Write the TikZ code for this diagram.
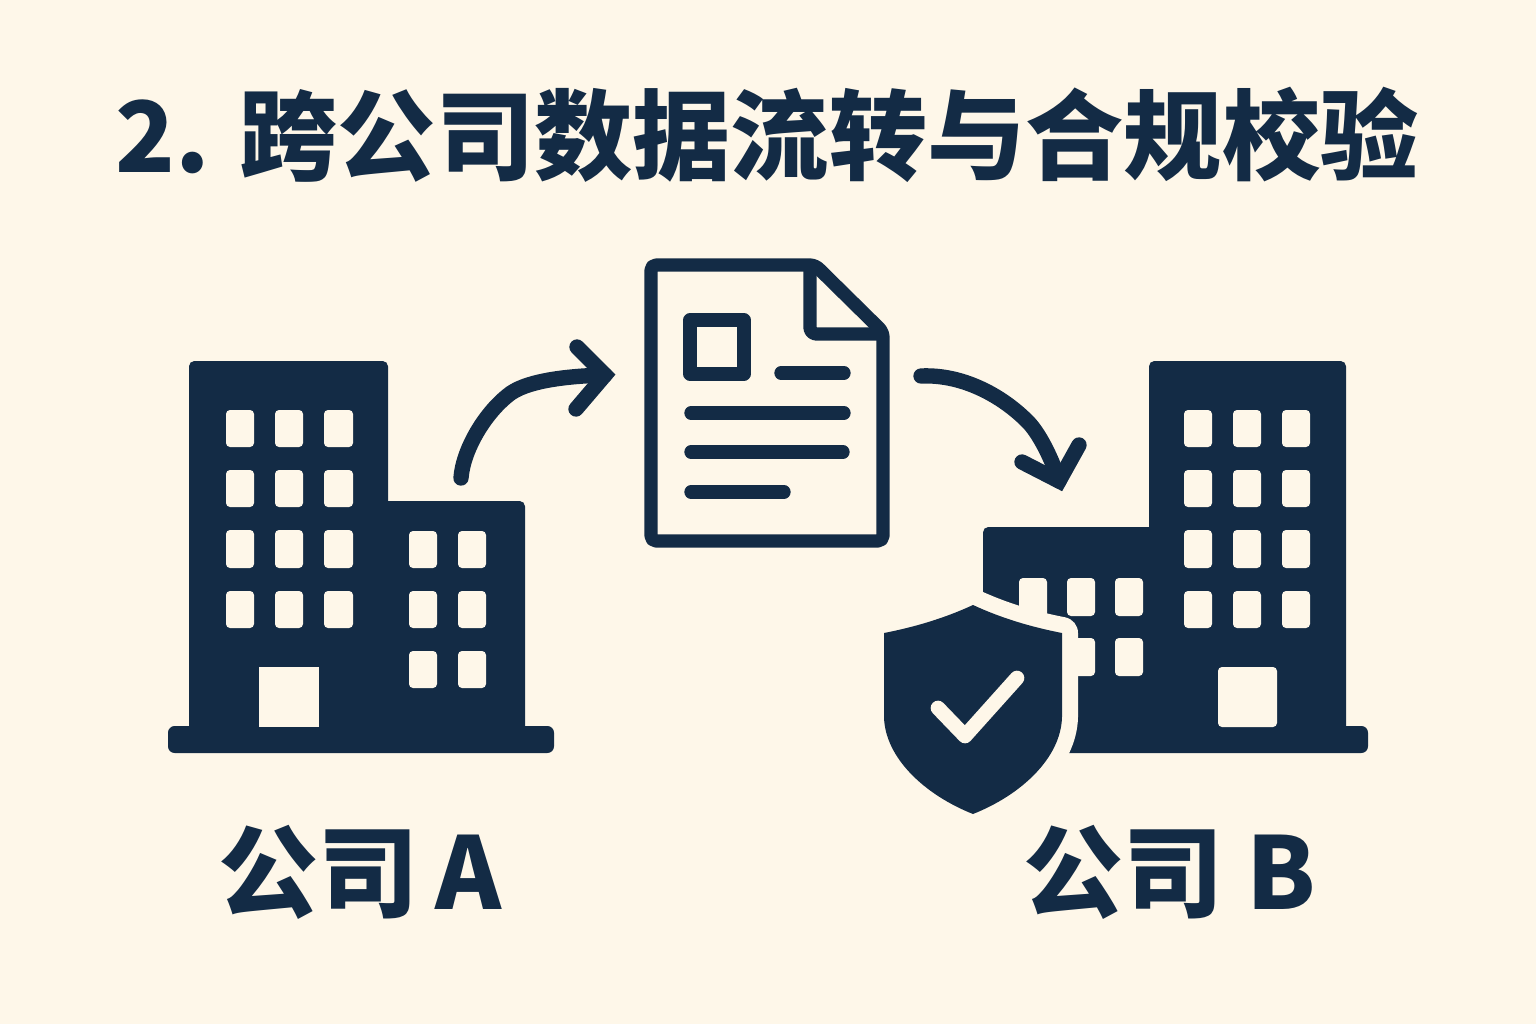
\documentclass[tikz,border=0pt]{standalone}
\usepackage{xcolor}
\usepackage{fontspec}
\newfontfamily\cjkfont{Noto Sans CJK SC}
\definecolor{pagecream}{HTML}{FEF7E9}
\definecolor{iconnavy}{HTML}{132B45}
\tikzset{
    solidicon/.style={fill=iconnavy},
    windowcut/.style={fill=pagecream,rounded corners=3pt},
    iconline/.style={draw=iconnavy,line width=10pt,line cap=round,line join=round},
    flowline/.style={draw=iconnavy,line width=11.5pt,line cap=round,line join=miter,miter limit=10},
    titletext/.style={text=iconnavy,font=\cjkfont\bfseries\fontsize{73.7}{80}\selectfont,inner sep=0pt},
    labeltext/.style={text=iconnavy,font=\cjkfont\bfseries\fontsize{75}{82}\selectfont,inner sep=0pt},
}

\begin{document}
\begin{tikzpicture}[x=0.75pt,y=0.75pt,yscale=-1,xscale=1]
%set diagram to the full page
    \fill [pagecream] (0,0) rectangle (1536,1024);

% Text Node
    \node [titletext] (titlenode) at (767,135) {2. 跨公司数据流转与合规校验};

%Shape: Building A
    \fill [solidicon,rounded corners=4pt] (189,361) rectangle (388,735);
    \fill [solidicon,rounded corners=4pt] (380,501) rectangle (525,735);
    \fill [solidicon,rounded corners=5pt] (168,726) rectangle (554,753);
%Windows of building A
    \path [windowcut] (226,410) rectangle (254,447) (275,410) rectangle (303,447) (324,410) rectangle (353,447);
    \path [windowcut] (226,470) rectangle (254,507) (275,470) rectangle (303,507) (324,470) rectangle (353,507);
    \path [windowcut] (226,530) rectangle (254,568) (275,530) rectangle (303,568) (324,530) rectangle (353,568) (409,531) rectangle (437,568) (458,531) rectangle (486,568);
    \path [windowcut] (226,591) rectangle (254,628) (275,591) rectangle (303,628) (324,591) rectangle (353,628) (409,591) rectangle (437,628) (458,591) rectangle (486,628);
    \path [windowcut] (409,651) rectangle (437,688) (458,651) rectangle (486,688);
    \fill [pagecream] (259,667) rectangle (319,727);

%Shape: Building B
    \fill [solidicon,rounded corners=4pt] (1149,361) rectangle (1346,735);
    \fill [solidicon,rounded corners=4pt] (983,527) rectangle (1157,735);
    \fill [solidicon,rounded corners=5pt] (983,726) rectangle (1368,753);
%Windows of building B
    \path [windowcut] (1184,410) rectangle (1212,447) (1233,410) rectangle (1261,447) (1282,410) rectangle (1310,447);
    \path [windowcut] (1184,470) rectangle (1212,507) (1233,470) rectangle (1261,507) (1282,470) rectangle (1310,507);
    \path [windowcut] (1184,530) rectangle (1212,568) (1233,530) rectangle (1261,568) (1282,530) rectangle (1310,568);
    \path [windowcut] (1184,591) rectangle (1212,628) (1233,591) rectangle (1261,628) (1282,591) rectangle (1310,628);
    \path [windowcut] (1019,578) rectangle (1047,630) (1067,578) rectangle (1095,616) (1115,578) rectangle (1143,616);
    \path [windowcut] (1060,638) rectangle (1095,676) (1115,638) rectangle (1143,676);
    \path [windowcut] (1218,667) rectangle (1277,727);

%Shape: Shield
    \draw [draw=pagecream,fill=pagecream,line width=24pt,line join=round] (973,605) .. controls (945,618) and (915,627) .. (884,633) -- (884,717) .. controls (885,758) and (925,795) .. (973,814) .. controls (1021,795) and (1061,758) .. (1062,717) -- (1062,633) .. controls (1031,627) and (1001,618) .. (973,605) -- cycle;
    \fill [solidicon] (973,605) .. controls (945,618) and (915,627) .. (884,633) -- (884,717) .. controls (885,758) and (925,795) .. (973,814) .. controls (1021,795) and (1061,758) .. (1062,717) -- (1062,633) .. controls (1031,627) and (1001,618) .. (973,605) -- cycle;
%Check mark
    \draw [draw=pagecream,line width=11pt,line cap=round,line join=round] (938,708) -- (965,736) -- (1017,678);

%Shape: Document
    \draw [iconline,rounded corners=4pt] (651,265) -- (815,265) -- (883,332) -- (883,541) -- (651,541) -- cycle;
    \draw [iconline,rounded corners=5pt] (810,268) -- (810,334) -- (880,334);
    \draw [iconline] (690,320) rectangle (744,374);
    \draw [iconline] (781,373) -- (844,373);
    \draw [iconline] (691,413) -- (844,413);
    \draw [iconline] (691,452) -- (843,452);
    \draw [iconline] (691,492) -- (784,492);

%Arrow from company A
    \coordinate (fromA) at (461,478);
    \coordinate (toDoc) at (605,375);
    \draw [flowline] (fromA) .. controls (463,450) and (485,412) .. (511,393) .. controls (530,380) and (570,376) .. (toDoc);
    \draw [flowline] (577,347) -- (toDoc) -- (576,409);

%Arrow to company B
    \coordinate (fromDoc) at (921,376);
    \coordinate (toB) at (1059,481);
    \draw [flowline] (fromDoc) .. controls (965,374) and (1005,398) .. (1029,423) .. controls (1041,436) and (1053,462) .. (toB);
    \draw [flowline] (1022,462) -- (toB) -- (1079,445);

% Text Node
    \node [labeltext] (labelA) at (360,872) {公司\hspace{-4pt} A};
% Text Node
    \node [labeltext] (labelB) at (1170,872) {公司 B};

\end{tikzpicture}
\end{document}
